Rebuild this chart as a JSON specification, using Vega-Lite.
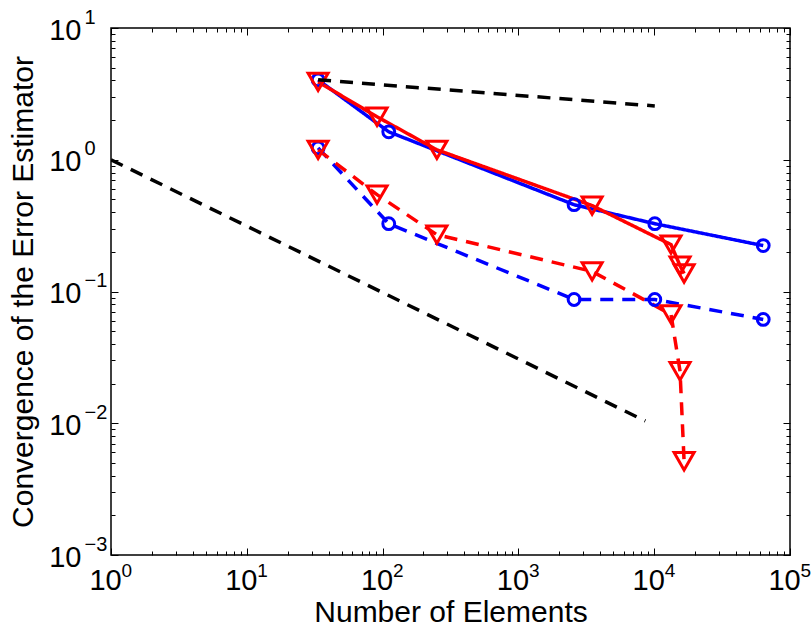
{
  "$schema": "https://vega.github.io/schema/vega-lite/v6.json",
  "width": 679,
  "height": 527,
  "autosize": {"type": "none"},
  "padding": {"left": 111, "top": 28, "right": 21, "bottom": 78},
  "background": "white",
  "config": {
    "font": "'Liberation Sans Narrow', 'Liberation Sans', sans-serif",
    "view": {"stroke": "black", "strokeWidth": 1.5},
    "axis": {
      "domain": false,
      "grid": false,
      "tickColor": "black",
      "tickWidth": 1,
      "labelColor": "black",
      "labelFont": "'Liberation Sans Narrow', 'Liberation Sans', sans-serif",
      "labelFlush": false,
      "labelOverlap": false,
      "labelBound": false,
      "titleFont": "'Liberation Sans Narrow', 'Liberation Sans', sans-serif",
      "titleFontSize": 30,
      "titleFontWeight": "normal",
      "titleColor": "black"
    }
  },
  "datasets": {
    "curves": [
      {"series": "blue solid", "n": 33.5, "e": 4.04},
      {"series": "blue solid", "n": 111, "e": 1.63},
      {"series": "blue solid", "n": 2570, "e": 0.456},
      {"series": "blue solid", "n": 10100, "e": 0.327},
      {"series": "blue solid", "n": 63500, "e": 0.223},
      {"series": "blue dashed", "n": 33.5, "e": 1.23},
      {"series": "blue dashed", "n": 111, "e": 0.327},
      {"series": "blue dashed", "n": 2570, "e": 0.087},
      {"series": "blue dashed", "n": 10100, "e": 0.087},
      {"series": "blue dashed", "n": 63500, "e": 0.0614},
      {"series": "red solid", "n": 33.5, "e": 3.9},
      {"series": "red solid", "n": 91, "e": 2.12},
      {"series": "red solid", "n": 251, "e": 1.19},
      {"series": "red solid", "n": 3490, "e": 0.449},
      {"series": "red solid", "n": 13300, "e": 0.227},
      {"series": "red solid", "n": 15500, "e": 0.157},
      {"series": "red solid", "n": 16600, "e": 0.137},
      {"series": "red dashed", "n": 33.5, "e": 1.19},
      {"series": "red dashed", "n": 91, "e": 0.543},
      {"series": "red dashed", "n": 251, "e": 0.27},
      {"series": "red dashed", "n": 3490, "e": 0.142},
      {"series": "red dashed", "n": 13300, "e": 0.067},
      {"series": "red dashed", "n": 15500, "e": 0.0248},
      {"series": "red dashed", "n": 16600, "e": 0.00515}
    ],
    "refs": [
      {"series": "ref slope", "n": 1, "e": 1},
      {"series": "ref slope", "n": 8600, "e": 0.0104},
      {"series": "ref flat", "n": 33.5, "e": 4.04},
      {"series": "ref flat", "n": 10100, "e": 2.56}
    ]
  },
  "resolve": {"axis": {"x": "independent", "y": "independent"}},
  "layer": [
    {
      "data": {"name": "curves"},
      "mark": {"type": "line", "strokeWidth": 3.5, "clip": true},
      "encoding": {
        "x": {
          "field": "n", "type": "quantitative",
          "scale": {"type": "log", "domain": [1, 100000], "nice": false},
          "axis": {
            "orient": "bottom",
            "title": "Number of Elements",
            "titlePadding": 2,
            "ticks": false, "tickSize": 0,
            "labelFontSize": 29,
            "labelAlign": "center",
            "labelBaseline": "alphabetic",
            "labelPadding": 34,
            "labelOffset": -6,
            "values": [1, 10, 100, 1000, 10000, 100000],
            "labelExpr": "'10'"
          }
        },
        "y": {
          "field": "e", "type": "quantitative",
          "scale": {"type": "log", "domain": [0.001, 10], "nice": false},
          "axis": {
            "orient": "left",
            "title": "Convergence of the Error Estimator",
            "titlePadding": 10,
            "ticks": false, "tickSize": 0,
            "labelFontSize": 29,
            "labelAlign": "right",
            "labelBaseline": "alphabetic",
            "labelOffset": 11,
            "labelPadding": 30,
            "values": [0.001, 0.01, 0.1, 1, 10],
            "labelExpr": "'10'"
          }
        },
        "detail": {"field": "series"},
        "order": {"field": "n", "type": "quantitative"},
        "color": {
          "field": "series", "type": "nominal", "legend": null,
          "scale": {
            "domain": ["blue solid", "blue dashed", "red solid", "red dashed"],
            "range": ["#0000ff", "#0000ff", "#ff0000", "#ff0000"]
          }
        },
        "strokeDash": {
          "field": "series", "type": "nominal", "legend": null,
          "scale": {
            "domain": ["blue solid", "blue dashed", "red solid", "red dashed"],
            "range": [[1, 0], [13, 9], [1, 0], [13, 9]]
          }
        }
      }
    },
    {
      "data": {"name": "curves"},
      "transform": [{"filter": "indexof(['blue solid','blue dashed'], datum.series) >= 0"}],
      "mark": {"type": "point", "shape": "circle", "filled": false, "size": 140, "strokeWidth": 3, "color": "#0000ff", "opacity": 1},
      "encoding": {
        "x": {
          "field": "n", "type": "quantitative",
          "axis": {
            "orient": "bottom",
            "title": null,
            "ticks": false, "tickSize": 0,
            "labelFontSize": 19,
            "labelAlign": "left",
            "labelBaseline": "alphabetic",
            "labelPadding": 21,
            "labelOffset": 10,
            "values": [1, 10, 100, 1000, 10000, 100000],
            "labelExpr": "format(log(datum.value)/LN10, '.0f')"
          }
        },
        "y": {
          "field": "e", "type": "quantitative",
          "axis": {
            "orient": "left",
            "title": null,
            "ticks": false, "tickSize": 0,
            "labelFontSize": 20,
            "labelAlign": "left",
            "labelBaseline": "alphabetic",
            "labelOffset": -5,
            "labelPadding": 27,
            "values": [0.001, 0.01, 0.1, 1, 10],
            "labelExpr": "replace(format(log(datum.value)/LN10, '.0f'), '-', '−')"
          }
        }
      }
    },
    {
      "data": {"name": "curves"},
      "transform": [{"filter": "indexof(['red solid','red dashed'], datum.series) >= 0"}],
      "mark": {"type": "point", "shape": "triangle-down", "filled": false, "size": 400, "strokeWidth": 3, "color": "#ff0000", "opacity": 1},
      "encoding": {
        "x": {
          "field": "n", "type": "quantitative",
          "axis": {
            "orient": "bottom", "title": null, "labels": false,
            "ticks": true,
            "tickSize": {"condition": {"test": "abs(log(datum.value)/LN10 - round(log(datum.value)/LN10)) < 0.0001", "value": -7}, "value": -4},
            "values": [1,2,3,4,5,6,7,8,9,10,20,30,40,50,60,70,80,90,100,200,300,400,500,600,700,800,900,1000,2000,3000,4000,5000,6000,7000,8000,9000,10000,20000,30000,40000,50000,60000,70000,80000,90000,100000]
          }
        },
        "y": {
          "field": "e", "type": "quantitative",
          "axis": {
            "orient": "left", "title": null, "labels": false,
            "ticks": true,
            "tickSize": {"condition": {"test": "abs(log(datum.value)/LN10 - round(log(datum.value)/LN10)) < 0.0001", "value": -7}, "value": -4},
            "values": [0.001,0.002,0.003,0.004,0.005,0.006,0.007,0.008,0.009,0.01,0.02,0.03,0.04,0.05,0.06,0.07,0.08,0.09,0.1,0.2,0.3,0.4,0.5,0.6,0.7,0.8,0.9,1,2,3,4,5,6,7,8,9,10]
          }
        }
      }
    },
    {
      "data": {"name": "refs"},
      "mark": {"type": "line", "strokeWidth": 3.5, "strokeDash": [13, 9], "color": "black", "clip": true},
      "encoding": {
        "detail": {"field": "series"},
        "x": {
          "field": "n", "type": "quantitative",
          "axis": {
            "orient": "top", "title": null, "labels": false,
            "ticks": true,
            "tickSize": {"condition": {"test": "abs(log(datum.value)/LN10 - round(log(datum.value)/LN10)) < 0.0001", "value": -7}, "value": -4},
            "values": [1,2,3,4,5,6,7,8,9,10,20,30,40,50,60,70,80,90,100,200,300,400,500,600,700,800,900,1000,2000,3000,4000,5000,6000,7000,8000,9000,10000,20000,30000,40000,50000,60000,70000,80000,90000,100000]
          }
        },
        "y": {
          "field": "e", "type": "quantitative",
          "axis": {
            "orient": "right", "title": null, "labels": false,
            "ticks": true,
            "tickSize": {"condition": {"test": "abs(log(datum.value)/LN10 - round(log(datum.value)/LN10)) < 0.0001", "value": -7}, "value": -4},
            "values": [0.001,0.002,0.003,0.004,0.005,0.006,0.007,0.008,0.009,0.01,0.02,0.03,0.04,0.05,0.06,0.07,0.08,0.09,0.1,0.2,0.3,0.4,0.5,0.6,0.7,0.8,0.9,1,2,3,4,5,6,7,8,9,10]
          }
        }
      }
    }
  ]
}
